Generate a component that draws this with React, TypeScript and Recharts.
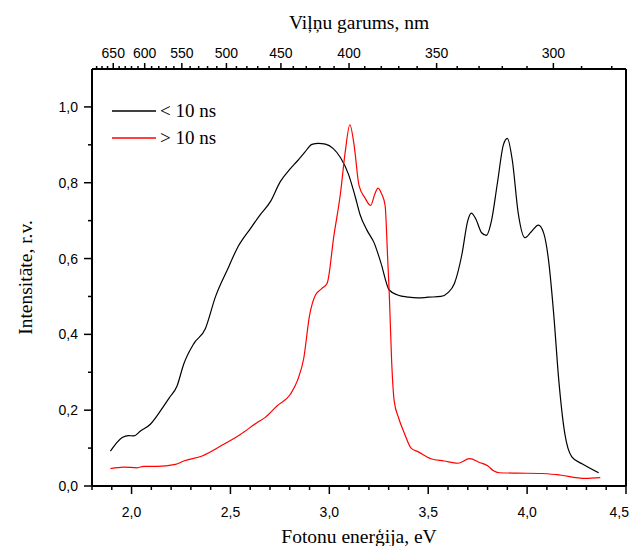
import React from "react";
import { LineChart, Line, XAxis, YAxis } from "recharts";

// photon energy (eV) -> wavelength (nm)
const HC = 1239.84;

// "< 10 ns" spectrum
const blackE = [1.893, 1.953, 1.985, 2.011, 2.045, 2.095, 2.146, 2.19, 2.23, 2.264, 2.314, 2.373, 2.424, 2.491, 2.533, 2.601, 2.65, 2.702, 2.752, 2.803, 2.836, 2.875, 2.912, 2.945, 2.98, 3.02, 3.057, 3.097, 3.13, 3.156, 3.19, 3.226, 3.26, 3.303, 3.345, 3.4, 3.447, 3.5, 3.565, 3.6, 3.633, 3.67, 3.7, 3.718, 3.74, 3.77, 3.794, 3.82, 3.85, 3.88, 3.9, 3.925, 3.955, 3.989, 4.02, 4.057, 4.085, 4.108, 4.135, 4.159, 4.19, 4.226, 4.28, 4.362];
const blackV = [0.092, 0.128, 0.133, 0.132, 0.145, 0.163, 0.198, 0.232, 0.264, 0.322, 0.375, 0.415, 0.499, 0.578, 0.626, 0.679, 0.715, 0.75, 0.803, 0.837, 0.856, 0.88, 0.901, 0.904, 0.902, 0.89, 0.866, 0.822, 0.765, 0.715, 0.675, 0.642, 0.59, 0.517, 0.504, 0.498, 0.496, 0.498, 0.5, 0.51, 0.535, 0.61, 0.7, 0.72, 0.705, 0.668, 0.661, 0.7, 0.8, 0.9, 0.917, 0.86, 0.72, 0.655, 0.67, 0.688, 0.665, 0.597, 0.45, 0.286, 0.14, 0.077, 0.058, 0.035];

// "> 10 ns" spectrum
const redE = [1.893, 1.96, 2.028, 2.062, 2.129, 2.222, 2.264, 2.357, 2.466, 2.55, 2.634, 2.676, 2.735, 2.803, 2.84, 2.87, 2.9, 2.93, 2.96, 2.989, 3.023, 3.057, 3.08, 3.104, 3.125, 3.15, 3.18, 3.209, 3.23, 3.246, 3.265, 3.282, 3.295, 3.303, 3.315, 3.328, 3.35, 3.379, 3.413, 3.45, 3.514, 3.58, 3.65, 3.709, 3.76, 3.802, 3.83, 3.86, 3.95, 4.074, 4.15, 4.294, 4.37];
const redV = [0.046, 0.05, 0.048, 0.052, 0.052, 0.057, 0.066, 0.079, 0.11, 0.136, 0.167, 0.181, 0.211, 0.242, 0.28, 0.335, 0.45, 0.504, 0.52, 0.535, 0.66, 0.775, 0.88, 0.953, 0.9, 0.793, 0.76, 0.74, 0.77, 0.786, 0.77, 0.74, 0.6, 0.508, 0.33, 0.224, 0.18, 0.14, 0.1, 0.09, 0.072, 0.066, 0.06, 0.072, 0.062, 0.053, 0.04, 0.035, 0.034, 0.033, 0.03, 0.02, 0.022];

const seriesNames = ["< 10 ns", "> 10 ns"];
const seriesColors = ["#000000", "#ff0000"];

// tick labels
const eVMajor = [2.0, 2.5, 3.0, 3.5, 4.0, 4.5];
const yMajor = [0, 0.2, 0.4, 0.6, 0.8, 1.0];
const nmMajor = [650, 600, 550, 500, 450, 400, 350, 300];

const steps = (from: number, to: number, step: number) => {
  const out: number[] = [];
  for (let v = from; v <= to + 1e-9; v += step) out.push(Math.round(v * 1000) / 1000);
  return out;
};
const eVTicks = steps(1.8, 4.5, 0.1);
const yTicks = steps(0, 1.0, 0.1);
const nmTicks = steps(280, 680, 10).reverse().map((nm) => HC / nm);
const nmMajorPos = nmMajor.map((nm) => HC / nm);

const blackData = blackE.map((e, i) => ({ e, v: blackV[i] }));
const redData = redE.map((e, i) => ({ e, v: redV[i] }));

const isIn = (v: number, list: number[]) => list.some((m) => Math.abs(m - v) < 1e-6);
const comma = (v: number) => v.toFixed(1).replace(".", ",");

const tickFont = { fontFamily: "'Liberation Sans', Arial, sans-serif", fontSize: 14, fill: "#000" };
const titleFont = { fontFamily: "'Liberation Serif', 'Times New Roman', serif", fontSize: 19.5, fill: "#000" };

const BottomTick = ({ x, y, payload }: any) => {
  const major = isIn(payload.value, eVMajor);
  // last label sits at the page edge, keep it fully inside
  const last = Math.abs(payload.value - 4.5) < 1e-6;
  return (
    <g>
      <line x1={x} x2={x} y1={y} y2={y + (major ? 8 : 4)} stroke="#000" strokeWidth={1.5} />
      {major && (
        <text x={last ? x + 3 : x} y={y + 31} textAnchor={last ? "end" : "middle"} {...tickFont}>
          {comma(payload.value)}
        </text>
      )}
    </g>
  );
};

const TopTick = ({ x, y, payload }: any) => {
  const major = isIn(payload.value, nmMajorPos);
  return (
    <g>
      <line x1={x} x2={x} y1={y} y2={y - (major ? 6 : 3)} stroke="#000" strokeWidth={1.5} />
      {major && (
        <text x={x} y={y - 11} textAnchor="middle" {...tickFont}>
          {Math.round(HC / payload.value)}
        </text>
      )}
    </g>
  );
};

const LeftTick = ({ x, y, payload }: any) => {
  const major = isIn(payload.value, yMajor);
  return (
    <g>
      <line x1={x} x2={x - (major ? 8 : 4)} y1={y} y2={y} stroke="#000" strokeWidth={1.5} />
      {major && (
        <text x={x - 14} y={y + 5} textAnchor="end" {...tickFont}>
          {comma(payload.value)}
        </text>
      )}
    </g>
  );
};

const LegendBox = () => (
  <div
    style={{
      position: "absolute",
      left: 104,
      top: 89,
      fontFamily: "'Liberation Serif', 'Times New Roman', serif",
      fontSize: 19,
    }}
  >
    {seriesNames.map((name, i) => (
      <div key={name} style={{ display: "flex", alignItems: "center", height: 27 }}>
        <svg width={44} height={4} style={{ marginRight: 4 }}>
          <line x1={0} x2={44} y1={2} y2={2} stroke={seriesColors[i]} strokeWidth={1.3} />
        </svg>
        <span>{name}</span>
      </div>
    ))}
  </div>
);

const axisLine = { stroke: "#000", strokeWidth: 2 };

export default function App() {
  return (
    <div style={{ position: "relative", width: 621, height: 538 }}>
      <style>{`.recharts-surface, .recharts-wrapper { overflow: visible !important; }`}</style>
      <LineChart width={629} height={538} margin={{ top: 0, right: 10, bottom: 0, left: 0 }}>
        <XAxis
          xAxisId="bottom"
          type="number"
          dataKey="e"
          domain={[1.8, 4.5]}
          allowDataOverflow
          ticks={eVTicks}
          interval={0}
          tickSize={0}
          tickMargin={0}
          tickLine={false}
          tick={(p: any) => <BottomTick {...p} />}
          height={60}
          axisLine={axisLine}
          label={{ value: "Fotonu enerģija, eV", position: "insideBottom", offset: 3, style: titleFont }}
        />
        <XAxis
          xAxisId="top"
          orientation="top"
          type="number"
          dataKey="e"
          domain={[1.8, 4.5]}
          allowDataOverflow
          ticks={nmTicks}
          interval={0}
          tickSize={0}
          tickMargin={0}
          tickLine={false}
          tick={(p: any) => <TopTick {...p} />}
          height={61}
          axisLine={axisLine}
          label={{ value: "Viļņu garums, nm", position: "insideTop", offset: 7, style: titleFont }}
        />
        <YAxis
          yAxisId="left"
          type="number"
          domain={[0, 1.1]}
          allowDataOverflow
          ticks={yTicks}
          interval={0}
          tickSize={0}
          tickMargin={0}
          tickLine={false}
          tick={(p: any) => <LeftTick {...p} />}
          width={84}
          axisLine={axisLine}
          label={{
            value: "Intensitāte, r.v.",
            angle: -90,
            position: "insideLeft",
            offset: 17,
            style: { ...titleFont, textAnchor: "middle" },
          }}
        />
        <YAxis
          yAxisId="right"
          orientation="right"
          type="number"
          domain={[0, 1.1]}
          allowDataOverflow
          width={1}
          tick={false}
          tickLine={false}
          axisLine={axisLine}
        />
        <Line
          xAxisId="bottom"
          yAxisId="left"
          data={blackData}
          dataKey="v"
          name={seriesNames[0]}
          type="monotone"
          stroke={seriesColors[0]}
          strokeWidth={1.2}
          dot={false}
          isAnimationActive={false}
        />
        <Line
          xAxisId="bottom"
          yAxisId="left"
          data={redData}
          dataKey="v"
          name={seriesNames[1]}
          type="monotone"
          stroke={seriesColors[1]}
          strokeWidth={1.2}
          dot={false}
          isAnimationActive={false}
        />
        {/* invisible copy so the top and right axes get a scale */}
        <Line
          xAxisId="top"
          yAxisId="right"
          data={blackData}
          dataKey="v"
          stroke="none"
          dot={false}
          activeDot={false}
          isAnimationActive={false}
        />
      </LineChart>
      <LegendBox />
    </div>
  );
}
